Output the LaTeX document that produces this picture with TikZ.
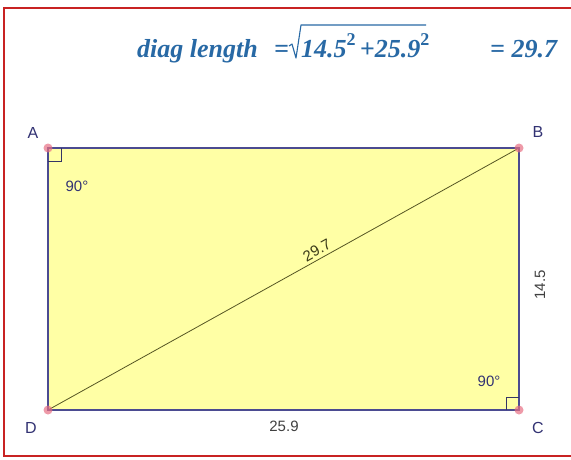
\documentclass[tikz,border=0pt]{standalone}
\usepackage{fontspec}
\setmainfont{Liberation Serif}
\newfontfamily\labelfont{Liberation Sans}
\usetikzlibrary{positioning}
\definecolor{rectfill}{RGB}{255,255,165}
\definecolor{edgeblue}{RGB}{75,75,145}
\definecolor{diaggreen}{RGB}{85,85,35}
\definecolor{formulablue}{RGB}{40,105,165}
\definecolor{vertexpink}{RGB}{232,112,132}
\definecolor{labelblue}{RGB}{50,50,115}
\definecolor{framered}{RGB}{200,35,35}
\tikzset{
  vertex/.style={circle,fill=vertexpink,opacity=0.7,inner sep=0pt,minimum size=9pt},
  ptlabel/.style={font=\labelfont\fontsize{16}{16}\selectfont,text=labelblue,inner sep=0pt},
  measure/.style={font=\labelfont\fontsize{15}{15}\selectfont,text=black!75,inner sep=0pt},
  formula/.style={font=\fontsize{26}{26}\selectfont\bfseries\itshape,text=formulablue,inner sep=0pt,anchor=base west},
  side/.style={draw=edgeblue,line width=1.4pt},
  rightangle/.style={draw=edgeblue!70!black,line width=1pt}
}
\newcommand{\sqtwo}{\raisebox{0.45em}{\fontsize{18}{18}\selectfont\upshape 2}}

\begin{document}
\begin{tikzpicture}[x=1pt,y=-1pt]
\useasboundingbox (0,0) rectangle (571,459);
\clip (0,0) rectangle (571,459);
\fill[white] (0,0) rectangle (571,459);
\draw[framered,line width=1.5pt] (580,8) -- (4,8) -- (4,456) -- (580,456);

% corners of the rectangle
\coordinate (A) at (48,148);
\coordinate (B) at (519,148);
\coordinate (C) at (519,410);
\coordinate (D) at (48,410);

\fill[rectfill] (A) rectangle (C);
\draw[diaggreen,line width=0.8pt] (D) -- node[pos=0.58,sloped,above,measure,inner sep=3pt,text=diaggreen!70!black] (diaglabel) {29.7} (B);
\draw[side] (A) -- (B) -- (C) -- (D) -- cycle;

% right angle marks
\draw[rightangle] (A) ++(13,0) -- ++(0,13) -- ++(-13,0);
\draw[rightangle] (C) ++(-13,0) -- ++(0,-13) -- ++(13,0);

\node[vertex] (dotA) at (A) {};
\node[vertex] (dotB) at (B) {};
\node[vertex] (dotC) at (C) {};
\node[vertex] (dotD) at (D) {};

\node[ptlabel] (labA) at (33,133) {A};
\node[ptlabel] (labB) at (538,132) {B};
\node[ptlabel] (labC) at (538,428) {C};
\node[ptlabel] (labD) at (31,428) {D};

\node[measure,text=labelblue] (angA) at (77,186) {90°};
\node[measure,text=labelblue] (angC) at (489,381) {90°};
\node[measure] (bottom) at (284,426) {25.9};
\node[measure,rotate=90] (right) at (540,285) {14.5};

% formula
\node[formula] (diaglen) at (137,57) {diag length};
\node[formula] (eqa) at (274,57) {=};
\draw[formulablue,line width=1.1pt,line join=round] (289,46) -- (292,44) -- (296,58) -- (301,25) -- (426,25);
\node[formula] (root) at (301,57) {14.5\sqtwo\,{\upshape+}25.9\sqtwo};
\node[formula] (result) at (490,57) {= 29.7};
\end{tikzpicture}
\end{document}
